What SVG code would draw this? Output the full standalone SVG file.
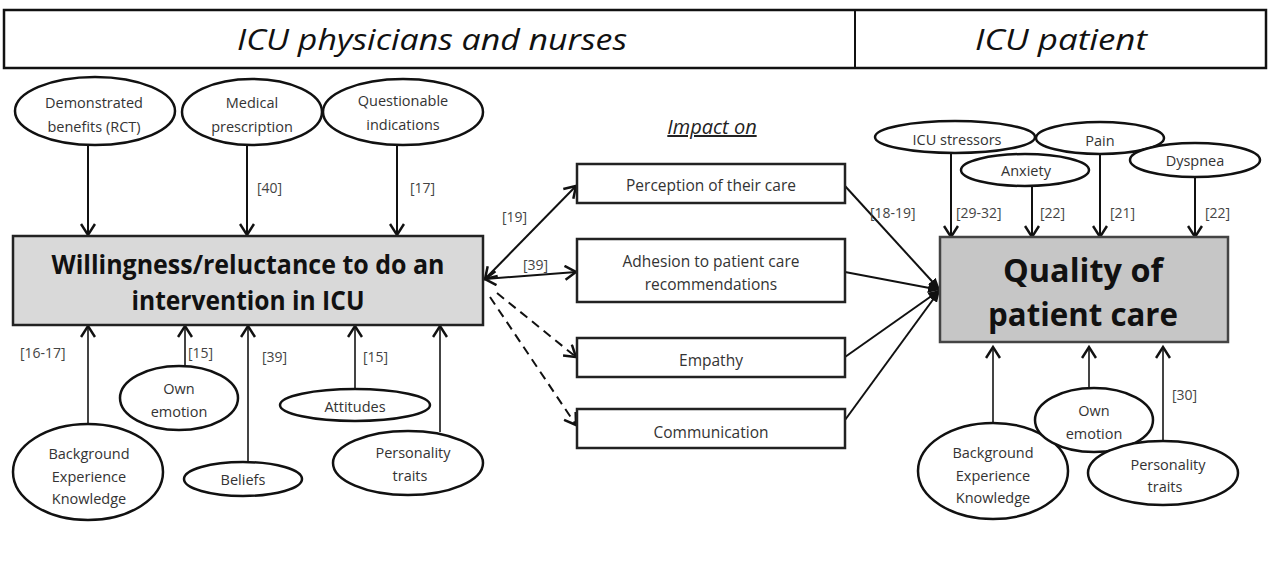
<svg xmlns="http://www.w3.org/2000/svg" width="1269" height="565" viewBox="0 0 1269 565">
<style>
.bg{fill:#ffffff}
.hdr{fill:#ffffff;stroke:#111;stroke-width:2.5}
.htxt{font-family:"Open Sans","Liberation Sans",sans-serif;font-style:italic;font-size:30px;fill:#111;text-anchor:middle}
.ell{fill:#ffffff;stroke:#111;stroke-width:2.5}
.etxt{font-family:"Open Sans","Liberation Sans",sans-serif;font-size:14.5px;fill:#333;text-anchor:middle}
.box{fill:#ffffff;stroke:#222;stroke-width:2.5}
.btxt{font-family:"Open Sans","Liberation Sans",sans-serif;font-size:15.5px;fill:#333;text-anchor:middle}
.main{fill:#d9d9d9;stroke:#222;stroke-width:2.5}
.main2{fill:#c6c6c6;stroke:#444;stroke-width:2.5}
.mtxt{font-family:"Open Sans","Liberation Sans",sans-serif;font-weight:bold;fill:#111;text-anchor:middle}
.lbl{font-family:"Open Sans","Liberation Sans",sans-serif;font-size:14px;fill:#444}
.ln{stroke:#111;stroke-width:2;fill:none}
.gln{stroke:#444;stroke-width:2;fill:none}
.dash{stroke:#111;stroke-width:2;fill:none;stroke-dasharray:9,6}
</style>
<defs>
<marker id="open" markerUnits="userSpaceOnUse" markerWidth="16" markerHeight="16" refX="12" refY="8" orient="auto-start-reverse">
<path d="M1,1 L12,8 L1,15" fill="none" stroke="#111" stroke-width="2.5"/>
</marker>
<marker id="solid" markerUnits="userSpaceOnUse" markerWidth="14" markerHeight="14" refX="12" refY="7" orient="auto">
<path d="M0,2 L12,7 L0,12 Z" fill="#111"/>
</marker>
</defs>
<rect class="bg" x="0" y="0" width="1269" height="565"/>

<g id="header">
<rect class="hdr" x="4" y="10" width="1262" height="58"/>
<line class="ln" x1="855" y1="10" x2="855" y2="68" stroke-width="2.5"/>
<text class="htxt" x="432" y="50" textLength="390" lengthAdjust="spacingAndGlyphs">ICU physicians and nurses</text>
<text class="htxt" x="1061" y="50" textLength="172" lengthAdjust="spacingAndGlyphs">ICU patient</text>
</g>

<g id="connectors">
<!-- top left -->
<line class="ln" x1="88" y1="145" x2="88" y2="235" marker-end="url(#open)"/>
<line class="ln" x1="247" y1="145" x2="247" y2="235" marker-end="url(#open)"/>
<line class="ln" x1="397" y1="145" x2="397" y2="235" marker-end="url(#open)"/>
<!-- bottom left -->
<line class="gln" x1="88" y1="425" x2="88" y2="326" marker-end="url(#open)"/>
<line class="gln" x1="185" y1="367" x2="185" y2="326" marker-end="url(#open)"/>
<line class="gln" x1="248" y1="462" x2="248" y2="326" marker-end="url(#open)"/>
<line class="gln" x1="355" y1="389" x2="355" y2="326" marker-end="url(#open)"/>
<line class="gln" x1="440" y1="432" x2="440" y2="326" marker-end="url(#open)"/>
<!-- middle -->
<line class="ln" x1="485" y1="279" x2="576" y2="186" marker-start="url(#open)" marker-end="url(#open)"/>
<line class="ln" x1="485" y1="279" x2="576" y2="272" marker-start="url(#open)" marker-end="url(#open)"/>
<line class="dash" x1="497" y1="293" x2="576" y2="357" marker-end="url(#open)"/>
<line class="dash" x1="490" y1="297" x2="576" y2="425" marker-end="url(#open)"/>
<!-- converge -->
<line class="ln" x1="845" y1="186" x2="940" y2="290" marker-end="url(#solid)"/>
<line class="ln" x1="845" y1="272" x2="940" y2="290" marker-end="url(#solid)"/>
<line class="ln" x1="845" y1="357" x2="940" y2="290" marker-end="url(#solid)"/>
<line class="ln" x1="845" y1="420" x2="940" y2="290" marker-end="url(#solid)"/>
<!-- top right -->
<line class="ln" x1="951" y1="153" x2="951" y2="237" marker-end="url(#open)"/>
<line class="ln" x1="1032" y1="186" x2="1032" y2="237" marker-end="url(#open)"/>
<line class="ln" x1="1100" y1="154" x2="1100" y2="237" marker-end="url(#open)"/>
<line class="ln" x1="1195" y1="177" x2="1195" y2="237" marker-end="url(#open)"/>
<!-- bottom right -->
<line class="gln" x1="993" y1="423" x2="993" y2="347" marker-end="url(#open)"/>
<line class="gln" x1="1089" y1="387" x2="1089" y2="347" marker-end="url(#open)"/>
<line class="gln" x1="1163" y1="441" x2="1163" y2="347" marker-end="url(#open)"/>
<!-- labels -->
<text class="lbl" x="257" y="193">[40]</text>
<text class="lbl" x="410" y="193">[17]</text>
<text class="lbl" x="20" y="358">[16-17]</text>
<text class="lbl" x="188" y="358">[15]</text>
<text class="lbl" x="262" y="362">[39]</text>
<text class="lbl" x="363" y="362">[15]</text>
<text class="lbl" x="502" y="222">[19]</text>
<text class="lbl" x="523" y="270">[39]</text>
<text class="lbl" x="870" y="218">[18-19]</text>
<text class="lbl" x="956" y="218">[29-32]</text>
<text class="lbl" x="1040" y="218">[22]</text>
<text class="lbl" x="1110" y="218">[21]</text>
<text class="lbl" x="1205" y="218">[22]</text>
<text class="lbl" x="1172" y="400">[30]</text>
</g>

<g id="demonstrated">
<ellipse class="ell" cx="95" cy="111" rx="80" ry="34"/>
<text class="etxt" x="94" y="108">Demonstrated</text>
<text class="etxt" x="94" y="132">benefits (RCT)</text>
</g>
<g id="medical">
<ellipse class="ell" cx="252" cy="112" rx="70" ry="33"/>
<text class="etxt" x="252" y="108">Medical</text>
<text class="etxt" x="252" y="132">prescription</text>
</g>
<g id="questionable">
<ellipse class="ell" cx="403" cy="112" rx="80" ry="33"/>
<text class="etxt" x="403" y="106">Questionable</text>
<text class="etxt" x="403" y="130">indications</text>
</g>

<g id="willingness">
<rect class="main" x="13" y="236" width="470" height="89"/>
<text class="mtxt" x="248" y="274" font-size="27" textLength="393" lengthAdjust="spacingAndGlyphs">Willingness/reluctance to do an</text>
<text class="mtxt" x="248" y="310" font-size="27" textLength="233" lengthAdjust="spacingAndGlyphs">intervention in ICU</text>
</g>

<g id="background-left">
<ellipse class="ell" cx="88" cy="472" rx="75" ry="48"/>
<text class="etxt" x="89" y="459">Background</text>
<text class="etxt" x="89" y="482">Experience</text>
<text class="etxt" x="89" y="504">Knowledge</text>
</g>
<g id="emotion-left">
<ellipse class="ell" cx="179" cy="398" rx="59" ry="32"/>
<text class="etxt" x="179" y="394">Own</text>
<text class="etxt" x="179" y="417">emotion</text>
</g>
<g id="beliefs">
<ellipse class="ell" cx="243" cy="479" rx="59" ry="17"/>
<text class="etxt" x="243" y="485">Beliefs</text>
</g>
<g id="attitudes">
<ellipse class="ell" cx="355" cy="405" rx="75" ry="16"/>
<text class="etxt" x="355" y="412">Attitudes</text>
</g>
<g id="personality-left">
<ellipse class="ell" cx="408" cy="463" rx="75" ry="32"/>
<text class="etxt" x="413" y="458">Personality</text>
<text class="etxt" x="410" y="481">traits</text>
</g>

<g id="impact">
<text x="712" y="134" font-family="Open Sans, Liberation Sans, sans-serif" font-style="italic" font-size="20" fill="#222" text-anchor="middle" text-decoration="underline">Impact on</text>
</g>
<g id="perception">
<rect class="box" x="577" y="164" width="268" height="39"/>
<text class="btxt" x="711" y="191">Perception of their care</text>
</g>
<g id="adhesion">
<rect class="box" x="577" y="239" width="268" height="63"/>
<text class="btxt" x="711" y="267">Adhesion to patient care</text>
<text class="btxt" x="711" y="290">recommendations</text>
</g>
<g id="empathy">
<rect class="box" x="577" y="338" width="268" height="39"/>
<text class="btxt" x="711" y="366">Empathy</text>
</g>
<g id="communication">
<rect class="box" x="577" y="409" width="268" height="39"/>
<text class="btxt" x="711" y="438">Communication</text>
</g>

<g id="quality">
<rect class="main2" x="940" y="237" width="288" height="105"/>
<text class="mtxt" x="1083" y="282" font-size="32" textLength="160" lengthAdjust="spacingAndGlyphs">Quality of</text>
<text class="mtxt" x="1083" y="326" font-size="32" textLength="190" lengthAdjust="spacingAndGlyphs">patient care</text>
</g>

<g id="stressors">
<ellipse class="ell" cx="955" cy="137" rx="80" ry="16"/>
<text class="etxt" x="957" y="145">ICU stressors</text>
</g>
<g id="pain">
<ellipse class="ell" cx="1100" cy="138" rx="64" ry="16"/>
<text class="etxt" x="1100" y="146">Pain</text>
</g>
<g id="anxiety">
<ellipse class="ell" cx="1025" cy="170" rx="64" ry="16"/>
<text class="etxt" x="1026" y="176">Anxiety</text>
</g>
<g id="dyspnea">
<ellipse class="ell" cx="1195" cy="160" rx="65" ry="17"/>
<text class="etxt" x="1195" y="166">Dyspnea</text>
</g>

<g id="background-right">
<ellipse class="ell" cx="993" cy="471" rx="75" ry="48"/>
<text class="etxt" x="993" y="458">Background</text>
<text class="etxt" x="993" y="481">Experience</text>
<text class="etxt" x="993" y="503">Knowledge</text>
</g>
<g id="emotion-right">
<ellipse class="ell" cx="1094" cy="420" rx="59" ry="32"/>
<text class="etxt" x="1094" y="416">Own</text>
<text class="etxt" x="1094" y="439">emotion</text>
</g>
<g id="personality-right">
<ellipse class="ell" cx="1163" cy="473" rx="75" ry="32"/>
<text class="etxt" x="1168" y="470">Personality</text>
<text class="etxt" x="1165" y="492">traits</text>
</g>
</svg>
